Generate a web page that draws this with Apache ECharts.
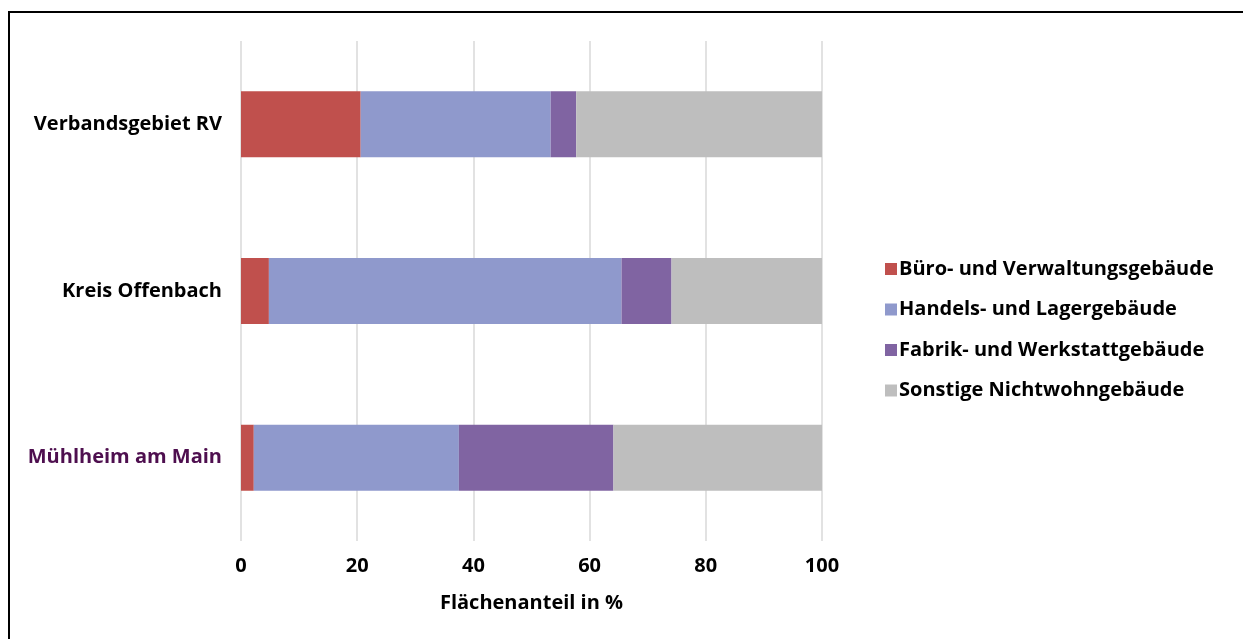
<!DOCTYPE html>
<html>
<head>
<meta charset="utf-8">
<script src="https://cdn.jsdelivr.net/npm/echarts@6/dist/echarts.min.js"></script>
<style>
  html, body { margin: 0; padding: 0; background: #fff; }
  #frame { position: absolute; left: 8px; top: 11px; width: 1235px; height: 628px;
           border-top: 2px solid #000; border-left: 2px solid #000; box-sizing: border-box; }
  #chart { position: absolute; left: 0; top: 0; width: 1243px; height: 639px; }
</style>
</head>
<body>
<div id="frame"></div>
<div id="chart"></div>
<script>
// Regions, top to bottom as drawn
const regions = ['Verbandsgebiet RV', 'Kreis Offenbach', 'Mühlheim am Main'];
// Floor-area share per building type, in %
const buero    = [20.6, 4.8, 2.2];
const handel   = [32.7, 60.7, 35.3];
const fabrik   = [4.4, 8.6, 26.6];
const sonstige = [42.3, 25.9, 35.9];
const xTicks = [0, 20, 40, 60, 80, 100];

const seriesDefs = [
  { name: 'Büro- und Verwaltungsgebäude', data: buero, color: '#C0504D' },
  { name: 'Handels- und Lagergebäude', data: handel, color: '#8F99CC' },
  { name: 'Fabrik- und Werkstattgebäude', data: fabrik, color: '#8064A2' },
  { name: 'Sonstige Nichtwohngebäude', data: sonstige, color: '#BEBEBE' }
];

const font = '"Open Sans", "Noto Sans", sans-serif';
const chart = echarts.init(document.getElementById('chart'), null, { renderer: 'canvas' });

chart.setOption({
  animation: false,
  textStyle: { fontFamily: font },
  grid: { left: 241, right: 421, top: 41, bottom: 98, containLabel: false },
  legend: {
    orient: 'vertical',
    left: 880,
    top: 254,
    itemWidth: 12,
    itemHeight: 12,
    itemGap: 20.5,
    icon: 'rect',
    textStyle: { fontFamily: font, fontSize: 20, fontWeight: 'bold', color: '#000', padding: [0, 0, 0, -3] },
    data: seriesDefs.map(s => s.name)
  },
  xAxis: {
    type: 'value',
    min: xTicks[0],
    max: xTicks[xTicks.length - 1],
    interval: 20,
    name: 'Flächenanteil in %',
    nameLocation: 'middle',
    nameGap: 52,
    nameTextStyle: { fontFamily: font, fontSize: 20, fontWeight: 'bold', color: '#000' },
    axisLine: { show: false },
    axisTick: { show: false },
    axisLabel: { fontFamily: font, fontSize: 20, fontWeight: 'bold', color: '#000', margin: 15 },
    splitLine: { show: true, lineStyle: { color: '#D9D9D9', width: 1.5 } }
  },
  yAxis: {
    type: 'category',
    inverse: true,
    data: regions,
    axisLine: { show: false },
    axisTick: { show: false },
    axisLabel: {
      fontFamily: font, fontSize: 20, fontWeight: 'bold', margin: 19,
      color: (v) => v === 'Mühlheim am Main' ? '#4E0F4F' : '#000'
    }
  },
  series: seriesDefs.map(s => ({
    name: s.name,
    type: 'bar',
    stack: 'total',
    barWidth: 66,
    data: s.data,
    itemStyle: { color: s.color },
    emphasis: { disabled: true }
  }))
});
</script>
</body>
</html>
